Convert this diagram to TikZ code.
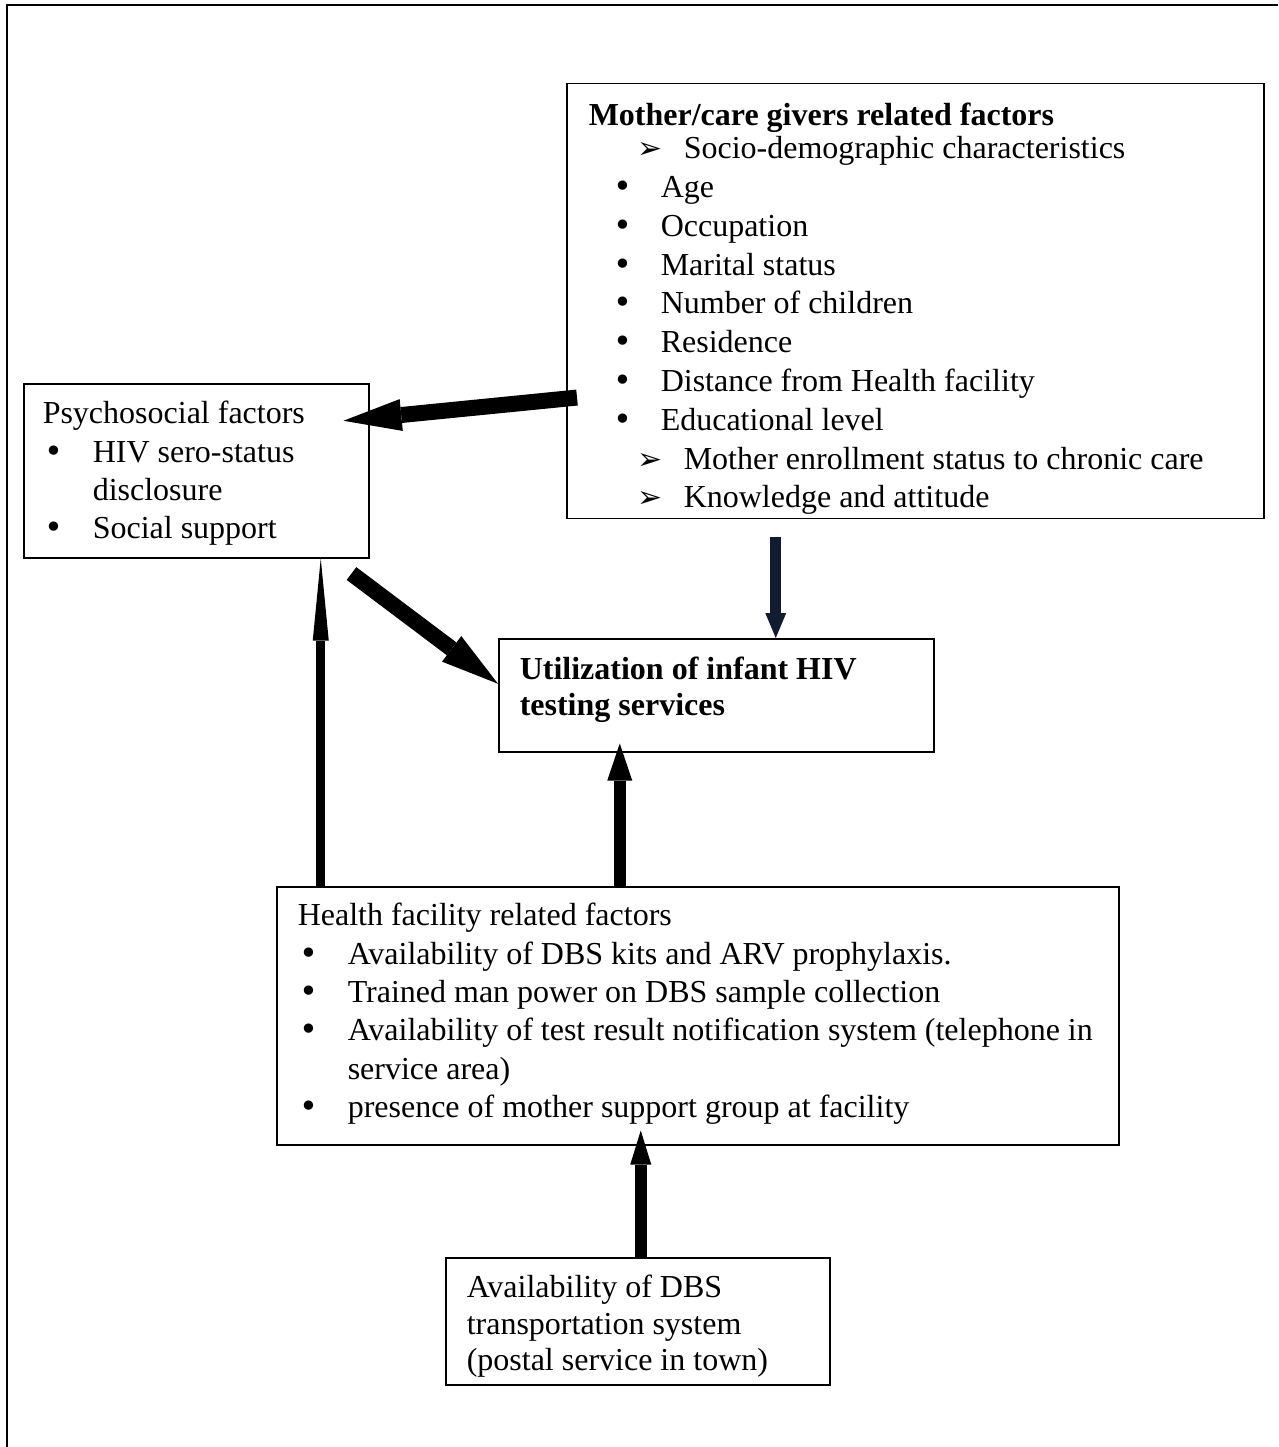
\documentclass[tikz,border=0pt]{standalone}
\usepackage{fontspec}
\setmainfont{Liberation Serif}
\newfontfamily\symfont{DejaVu Sans}
\usetikzlibrary{arrows.meta}
\definecolor{navyline}{RGB}{18,28,48}
% list marks and one hanging list line
\newcommand{\bulsym}{{\symfont •}}
\newcommand{\chevsym}{{\symfont\fontsize{30}{30}\selectfont ➢}}
\newcommand{\listline}[3]{\par\noindent\hangindent=#2\hangafter=1\hbox to #2{\hspace*{#1}#3\hfil}\ignorespaces}
\begin{document}
\begin{tikzpicture}[x=1pt, y=-1pt,
    every node/.style={font=\fontsize{32}{38.6}\selectfont},
    factor/.style={draw, line width=1.5pt, anchor=north west, inner sep=0pt},
    frame/.style={line width=2.5pt},
    bigarrow/.style={line width=16pt, -{Triangle[length=58pt, width=32pt, line width=0pt]}},
    navyarrow/.style={line width=11pt, draw=navyline, -{Triangle[length=25pt, width=21pt, line width=0pt]}},
    midarrow/.style={line width=12pt, -{Triangle[length=37pt, width=25pt, line width=0pt]}},
    shortarrow/.style={line width=12pt, -{Triangle[length=34pt, width=21pt, line width=0pt]}},
    longarrow/.style={line width=9pt, -{Triangle[length=82pt, width=16pt, line width=0pt]}}
  ]
    \useasboundingbox (0,0) rectangle (1278,1447);
    \draw[frame] (7,1447) -- (7,5) -- (1278,5);

    \node[factor, inner xsep=22pt, inner ysep=14.8pt] (mother) at (566,83) {\parbox[t][405pt][t]{653pt}{\fontsize{32}{38.8}\selectfont\raggedright\strut
      \textbf{Mother/care givers related factors}\par\vspace{-5.8pt}
      \listline{49pt}{95pt}{\chevsym}Socio-demographic characteristics
      \listline{25pt}{72pt}{\bulsym}Age
      \listline{25pt}{72pt}{\bulsym}Occupation
      \listline{25pt}{72pt}{\bulsym}Marital status
      \listline{25pt}{72pt}{\bulsym}Number of children
      \listline{25pt}{72pt}{\bulsym}Residence
      \listline{25pt}{72pt}{\bulsym}Distance from Health facility
      \listline{25pt}{72pt}{\bulsym}Educational level
      \listline{49pt}{95pt}{\chevsym}Mother enrollment status to chronic care
      \listline{49pt}{95pt}{\chevsym}Knowledge and attitude}};

    \node[factor, inner xsep=19pt, inner ysep=13.1pt] (psycho) at (23,383) {\parbox[t][147.8pt][t]{307pt}{\fontsize{32}{38.4}\selectfont\raggedright\strut
      Psychosocial factors
      \listline{2pt}{50pt}{\bulsym}HIV sero-status\hfil\break disclosure
      \listline{2pt}{50pt}{\bulsym}Social support}};

    \node[factor, inner xsep=21pt, inner ysep=15.8pt] (util) at (498,638) {\parbox[t][81.4pt][t]{393pt}{\fontsize{32}{36}\selectfont\raggedright\strut
      \textbf{Utilization of infant HIV\\testing services}}};

    \node[factor, inner xsep=21pt, inner ysep=12.1pt] (health) at (276,886) {\parbox[t][233.8pt][t]{800pt}{\fontsize{32}{38.4}\selectfont\raggedright\strut
      Health facility related factors
      \listline{2pt}{50pt}{\bulsym}Availability of DBS kits and ARV prophylaxis.
      \listline{2pt}{50pt}{\bulsym}Trained man power on DBS sample collection
      \listline{2pt}{50pt}{\bulsym}Availability of test result notification system (telephone in\hfil\break service area)
      \listline{2pt}{50pt}{\bulsym}presence of mother support group at facility}};

    \node[factor, inner xsep=21pt, inner ysep=14.45pt] (dbs) at (445,1257) {\parbox[t][98.1pt][t]{342pt}{\fontsize{32}{36.5}\selectfont\raggedright\strut
      Availability of DBS\\transportation system\\(postal service in town)}};

    \draw[bigarrow] ([xshift=11pt, yshift=-96.5pt]mother.west) -- ([xshift=-26pt, yshift=50pt]psycho.east);
    \draw[bigarrow] ([xshift=-18pt, yshift=-15pt]psycho.south east) -- ([yshift=11.5pt]util.west);
    \draw[navyarrow] ([xshift=-139.5pt, yshift=-18pt]mother.south) -- ([xshift=59.5pt]util.north);
    \draw[midarrow] ([xshift=-78pt]health.north) -- ([xshift=-96.5pt, yshift=9pt]util.south);
    \draw[longarrow] ([xshift=-377pt]health.north) -- ([xshift=124.5pt]psycho.south);
    \draw[shortarrow] ([xshift=3pt]dbs.north) -- ([xshift=-57pt, yshift=15pt]health.south);
  \end{tikzpicture}
\end{document}
